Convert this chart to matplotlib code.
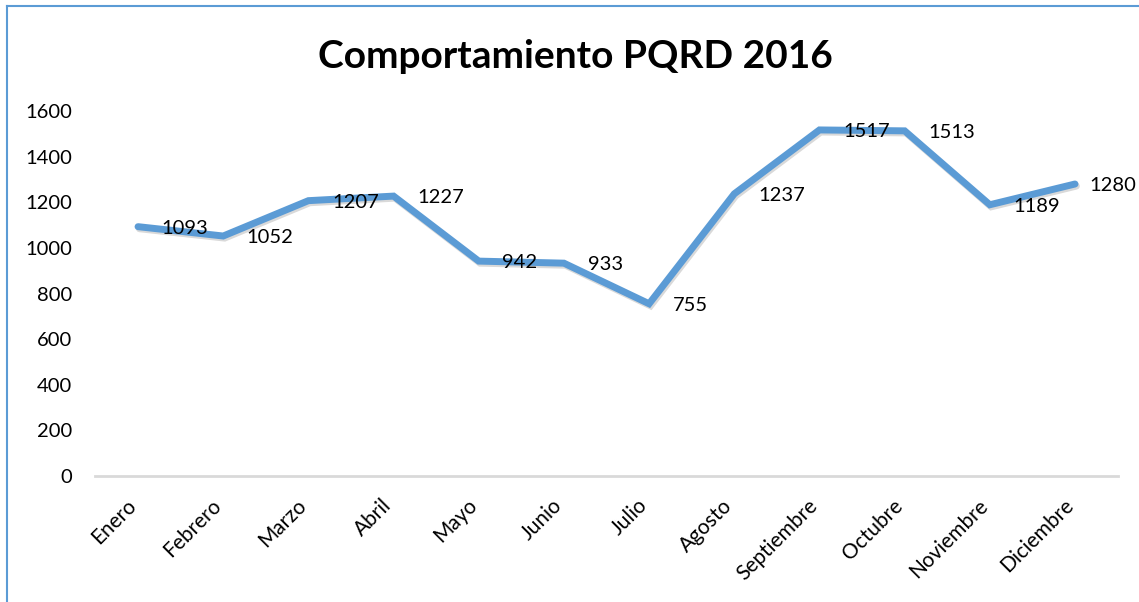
import matplotlib.pyplot as plt
import matplotlib.patheffects as pe
import matplotlib.transforms as mtransforms
from matplotlib.lines import Line2D

plt.rcParams['font.family'] = ['Lato', 'DejaVu Sans']

meses = ["Enero", "Febrero", "Marzo", "Abril", "Mayo", "Junio", "Julio",
         "Agosto", "Septiembre", "Octubre", "Noviembre", "Diciembre"]
pqrd = [1093, 1052, 1207, 1227, 942, 933, 755, 1237, 1517, 1513, 1189, 1280]
yticks = [0, 200, 400, 600, 800, 1000, 1200, 1400, 1600]

fig = plt.figure(figsize=(11.39, 6.02), dpi=100)
ax = fig.add_axes([0.0838, 0.2093, 0.8974, 0.6063])

x = list(range(len(meses)))
ax.plot(x, pqrd, color="#5B9BD5", lw=5, solid_capstyle="round", solid_joinstyle="miter",
        path_effects=[pe.SimpleLineShadow(offset=(1, -1.5), shadow_color="black", alpha=0.15),
                      pe.Normal()])
for xi, v in zip(x, pqrd):
    dx = 10 if xi == len(meses) - 1 else 17  # la ultima etiqueta se acerca para caber
    ax.annotate(str(v), (xi, v), xytext=(dx, -1), textcoords="offset points",
                ha="left", va="center", fontsize=14.5, color="black")

ax.set_xlim(-0.5, len(meses) - 0.5)
ax.set_ylim(0, 1600)
ax.set_yticks(yticks)
ax.set_xticks(x)
ax.set_xticklabels(meses, rotation=45, ha="right", rotation_mode="anchor", fontsize=15)
ax.tick_params(axis="y", labelsize=14.5, length=0, pad=17)
ax.tick_params(axis="x", length=0, pad=14)
desplaza = mtransforms.ScaledTranslation(-0.12, 0, fig.dpi_scale_trans)
for lab in ax.get_xticklabels():
    lab.set_transform(lab.get_transform() + desplaza)
for s in ["top", "right", "left"]:
    ax.spines[s].set_visible(False)
ax.spines["bottom"].set_color("#D9D9D9")
ax.spines["bottom"].set_linewidth(2)

fig.suptitle("Comportamiento PQRD 2016", fontsize=28, fontweight="bold", x=0.505, y=0.935)

# borde del grafico
fig.add_artist(Line2D([7 / 1139, 7 / 1139], [0, 1 - 6 / 602], color="#5B9BD5", lw=1.5))
fig.add_artist(Line2D([7 / 1139, 1], [1 - 6 / 602, 1 - 6 / 602], color="#5B9BD5", lw=1.5))

fig.savefig("out.png", dpi=100, facecolor="white")
